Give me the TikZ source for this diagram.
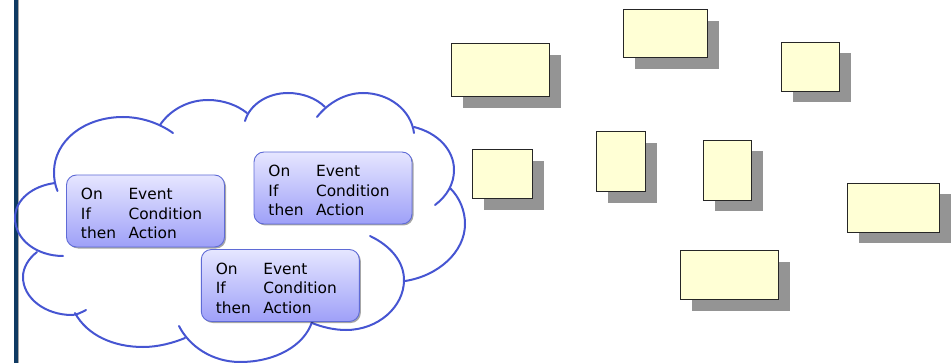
\documentclass[tikz,border=0pt]{standalone}
\usepackage{fontspec}
\setmainfont{DejaVu Sans}
\usetikzlibrary{shadows}
\definecolor{cloudblue}{HTML}{4655D2}
\definecolor{ruleedge}{HTML}{5F6BD6}
\definecolor{ruletop}{HTML}{E6E6FF}
\definecolor{rulebot}{HTML}{9EA0F8}
\definecolor{noteyellow}{HTML}{FFFFD5}
\definecolor{shadowgray}{HTML}{949494}
\definecolor{barblue}{HTML}{0F3A62}
\tikzset{
  cloudarc/.style={draw=cloudblue,line width=2pt,line cap=round},
  rulebox/.style={rounded corners=10pt,draw=ruleedge,line width=0.9pt,top color=ruletop,bottom color=rulebot,
    minimum width=158pt,minimum height=72pt,inner sep=0pt,
    drop shadow={shadow xshift=1.5pt,shadow yshift=-1.5pt,opacity=0.35,fill=black}},
  notebox/.style={draw=black!85,line width=0.9pt,fill=noteyellow,inner sep=0pt,
    drop shadow={shadow xshift=11.5pt,shadow yshift=-11.5pt,opacity=1,fill=shadowgray}}
}
\newcommand{\ecarule}{\fontsize{15.4}{19.5}\selectfont\begin{tabular}{@{}l@{\hskip 12.5pt}l@{\hspace{8pt}}}\noalign{\vskip 9pt}On&Event\\If&Condition\\then&Action\end{tabular}}
\begin{document}
\begin{tikzpicture}[x=1pt,y=-1pt]
\useasboundingbox (0,0) rectangle (952,363);
% left bar
\fill[gray!70] (17.5,0) rectangle (18.7,363);
\fill[barblue] (14,0) rectangle (18,363);
% cloud
\draw[cloudarc] (57.5,191) .. controls (55,185) and (54,179) .. (54,172) .. controls (54,141) and (84,117) .. (123,117) .. controls (141,117) and (159,123) .. (173,133);
\draw[cloudarc] (55,183) .. controls (32,186) and (15,200) .. (15,218) .. controls (15,240) and (37,256) .. (63,256);
\draw[cloudarc] (37,252) .. controls (28,259) and (23,268) .. (23,277) .. controls (23,298) and (45,315) .. (72,315) .. controls (77,315) and (82,312) .. (86,310);
\draw[cloudarc] (75,313) .. controls (87,335) and (113,347) .. (143,347) .. controls (158,347) and (173,343) .. (185,338);
\draw[cloudarc] (179,326) .. controls (189,346) and (212,362) .. (240,362) .. controls (275,362) and (304,346) .. (312,322);
\draw[cloudarc] (312,323) .. controls (322,327) and (334,330) .. (346,330) .. controls (378,330) and (404,307) .. (404,280) .. controls (404,262) and (391,246) .. (370,236);
\draw[cloudarc] (405,281) .. controls (438,276) and (465,252) .. (465,224) .. controls (465,211) and (460,198) .. (450,188);
\draw[cloudarc] (435,205) .. controls (447,196) and (454,184) .. (454,170) .. controls (454,150) and (438,133) .. (414,127);
\draw[cloudarc] (414,133) .. controls (411,110) and (389,93) .. (363,93) .. controls (345,93) and (328,103) .. (317,117);
\draw[cloudarc] (325,107) .. controls (316,98) and (302,93) .. (288,93) .. controls (268,93) and (250,104) .. (245,121);
\draw[cloudarc] (247,113) .. controls (237,105) and (223,100) .. (208,100) .. controls (188,100) and (170,110) .. (160,125);
% rule boxes
\node[rulebox] (rulea) at (145.5,211) {\ecarule};
\node[rulebox] (ruleb) at (333,188) {\ecarule};
\node[rulebox] (rulec) at (280.3,285.5) {\ecarule};
% note boxes
\node[notebox,minimum width=97.7pt,minimum height=53.3pt] (n1) at (500.2,69.7) {};
\node[notebox,minimum width=84.4pt,minimum height=48.3pt] (n2) at (665.7,33.8) {};
\node[notebox,minimum width=58pt,minimum height=49pt] (n3) at (810,66.5) {};
\node[notebox,minimum width=60pt,minimum height=48.6pt] (n4) at (502.3,174) {};
\node[notebox,minimum width=49pt,minimum height=60.4pt] (n5) at (620.8,161.5) {};
\node[notebox,minimum width=48pt,minimum height=60pt] (n6) at (727,170) {};
\node[notebox,minimum width=92pt,minimum height=49pt] (n7) at (893,207.5) {};
\node[notebox,minimum width=98pt,minimum height=49pt] (n8) at (729,274.5) {};
\end{tikzpicture}
\end{document}
